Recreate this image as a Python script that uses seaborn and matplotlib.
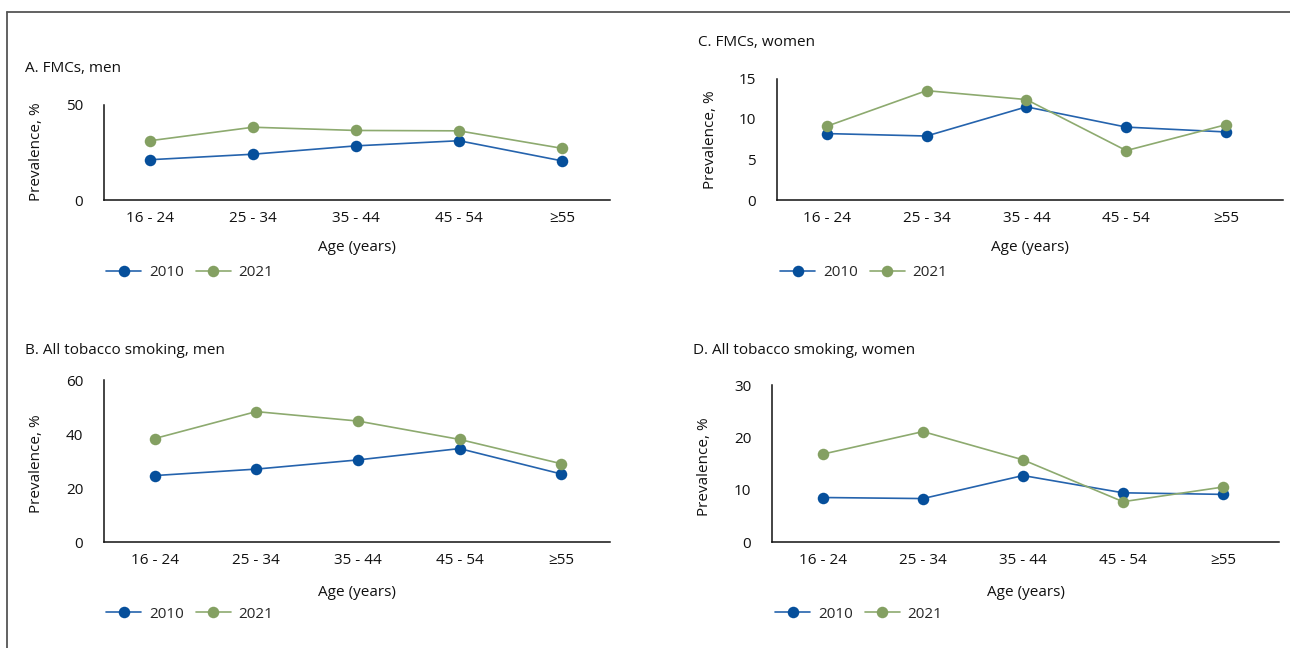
import pandas as pd
import matplotlib.pyplot as plt
import seaborn as sns
from matplotlib.lines import Line2D

sns.set_style("white")
plt.rcParams['font.family'] = ['Open Sans', 'DejaVu Sans']

age_groups = ["16 - 24", "25 - 34", "35 - 44", "45 - 54", "≥55"]
years = ["2010", "2021"]

# prevalence (%)
fmc_men_2010 = [21.2, 24.1, 28.5, 31.2, 20.6]
fmc_men_2021 = [31.2, 38.3, 36.6, 36.4, 27.2]
smoking_men_2010 = [24.6, 27.0, 30.4, 34.6, 25.2]
smoking_men_2021 = [38.3, 48.3, 44.8, 38.0, 29.0]
fmc_women_2010 = [8.2, 7.9, 11.5, 9.0, 8.4]
fmc_women_2021 = [9.1, 13.5, 12.4, 6.1, 9.3]
smoking_women_2010 = [8.5, 8.3, 12.7, 9.4, 9.1]
smoking_women_2021 = [16.8, 21.1, 15.7, 7.7, 10.5]

line_colors = {"2010": "#2563ad", "2021": "#8daa6f"}
marker_colors = {"2010": "#064f9b", "2021": "#84a062"}
FS = 11

panels = [
    # title, v2010, v2021, y ticks, axes rect (px), xlim, title pos, ylabel pos, xlabel y, legend pos
    ("A. FMCs, men", fmc_men_2010, fmc_men_2021, [0, 50],
     (104, 105, 610, 200), (-0.447, 4.466), (25, 68), (37, 152), 248, (106, 273)),
    ("B. All tobacco smoking, men", smoking_men_2010, smoking_men_2021, [0, 20, 40, 60],
     (104, 380, 610, 542), (-0.497, 4.48), (25, 351), (37, 464), 592, (106, 614)),
    ("C. FMCs, women", fmc_women_2010, fmc_women_2021, [0, 5, 10, 15],
     (777, 78.5, 1283, 200), (-0.498, 4.57), (698, 43), (710, 140), 248, (780, 273)),
    ("D. All tobacco smoking, women", smoking_women_2010, smoking_women_2021, [0, 10, 20, 30],
     (772, 385, 1279, 542), (-0.51, 4.56), (693, 351), (705, 467), 592, (775, 614)),
]

W, H = 1290, 648
fig = plt.figure(figsize=(W / 100, H / 100), dpi=100)

for title, v2010, v2021, yticks, rect, xlim, tpos, ylpos, xly, lpos in panels:
    x0, y0, x1, y1 = rect
    ax = fig.add_axes([x0 / W, 1 - y1 / H, (x1 - x0) / W, (y1 - y0) / H])
    df = pd.DataFrame({
        "age": age_groups * 2,
        "prev": v2010 + v2021,
        "year": ["2010"] * 5 + ["2021"] * 5,
    })
    sns.lineplot(data=df, x="age", y="prev", hue="year", palette=line_colors,
                 marker="o", markersize=8.3, linewidth=1.2, markeredgewidth=0,
                 sort=False, legend=False, ax=ax)
    for line, yr in zip(ax.lines, years):
        line.set_markerfacecolor(marker_colors[yr])
        line.set_markeredgecolor(marker_colors[yr])

    ax.set_xlim(*xlim)
    ax.set_ylim(yticks[0], yticks[-1])
    ax.set_yticks(yticks)
    ax.set_xticks(range(len(age_groups)))
    ax.set_xticklabels(age_groups)
    sns.despine(ax=ax)
    for s in ["left", "bottom"]:
        ax.spines[s].set_color("#111111")
        ax.spines[s].set_linewidth(1.1)
    ax.tick_params(axis="y", length=10, width=1.1, pad=5, labelsize=FS, colors="#111111")
    ax.tick_params(axis="x", length=0, pad=8, labelsize=FS, colors="#111111")

    ax.set_ylabel("Prevalence, %", fontsize=FS, color="#111111")
    ax.yaxis.set_label_coords(ylpos[0] / W, 1 - ylpos[1] / H, transform=fig.transFigure)
    ax.yaxis.label.set_verticalalignment("center")
    ax.set_xlabel("Age (years)", fontsize=FS, color="#111111")
    ax.xaxis.set_label_coords((x0 + x1) / 2 / W, 1 - xly / H, transform=fig.transFigure)
    ax.xaxis.label.set_verticalalignment("center")

    fig.text(tpos[0] / W, 1 - tpos[1] / H, title, fontsize=FS, color="#111111",
             ha="left", va="center")

    ax.legend(handles=ax.lines[:2], labels=years, loc="center left",
              bbox_to_anchor=(lpos[0] / W, 1 - lpos[1] / H), bbox_transform=fig.transFigure,
              ncol=2, frameon=False, fontsize=FS, handlelength=2.3,
              handletextpad=0.5, columnspacing=0.8, borderpad=0, borderaxespad=0)

# outer frame (top and left edges)
fig.add_artist(Line2D([7 / W, 1], [1 - 11.5 / H, 1 - 11.5 / H], transform=fig.transFigure,
                      color="#555555", linewidth=1.3))
fig.add_artist(Line2D([7 / W, 7 / W], [0, 1 - 11.5 / H], transform=fig.transFigure,
                      color="#555555", linewidth=1.3))

fig.savefig("out.png", dpi=100)
